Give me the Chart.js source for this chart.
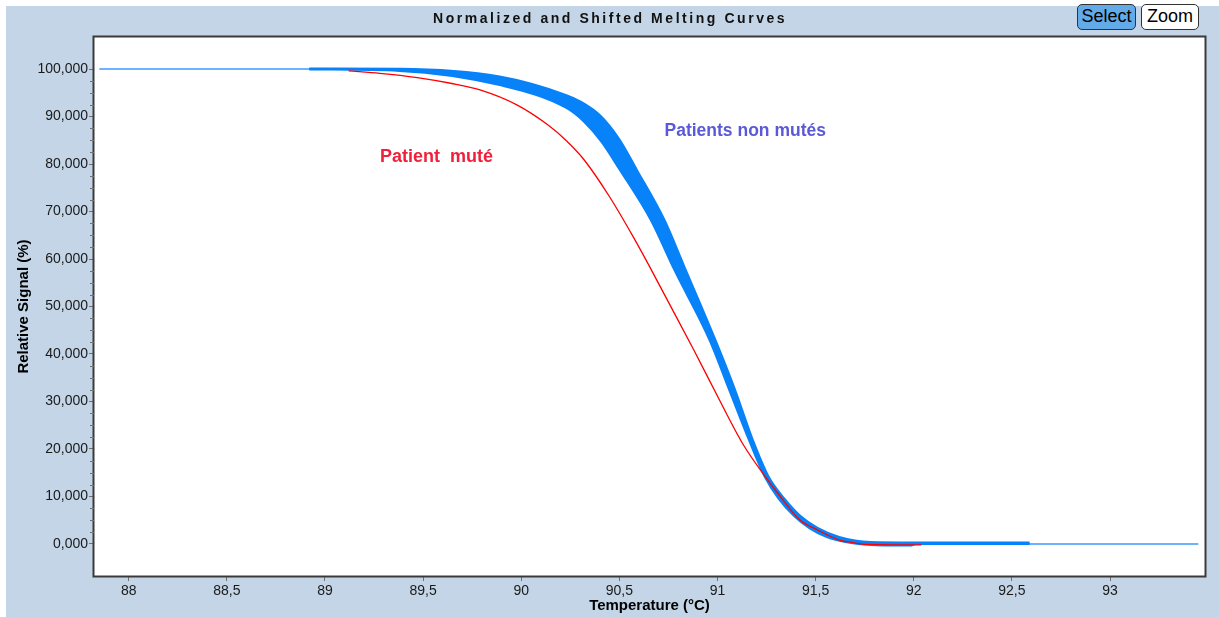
<!DOCTYPE html>
<html>
<head>
<meta charset="utf-8">
<title>Normalized and Shifted Melting Curves</title>
<script src="https://cdn.jsdelivr.net/npm/chart.js@4.4.1/dist/chart.umd.min.js"></script>
<style>
    body { margin: 0; background: #fff; width: 1219px; height: 617px; overflow: hidden; position: relative; font-family: "Liberation Sans", Arial, sans-serif; }
    #frame { position: absolute; left: 6px; top: 6px; width: 1213px; height: 611px; background: #c3d5e6; }
    #chart { position: absolute; left: 0; top: 0; }
    #title { position: absolute; left: 433px; top: 10px; font-weight: bold; font-size: 14px; letter-spacing: 2.55px; white-space: nowrap; color: #111; }
    .btn { position: absolute; top: 4px; height: 26px; box-sizing: border-box; border: 1px solid #333; border-radius: 5px; font-size: 18px; line-height: 23px; text-align: center; color: #000; }
    #btnSelect { left: 1077px; width: 59px; background: #62aae8; }
    #btnZoom { left: 1141px; width: 58px; background: #fff; }
</style>
</head>
<body>
<div id="frame"></div>
<canvas id="chart" width="1219" height="617"></canvas>
<div id="title">Normalized and Shifted Melting Curves</div>
<div class="btn" id="btnSelect">Select</div>
<div class="btn" id="btnZoom">Zoom</div>
<script>
// ====== DATA ======
const xTicks = [88, 88.5, 89, 89.5, 90, 90.5, 91, 91.5, 92, 92.5, 93];
const yTicks = [0, 10, 20, 30, 40, 50, 60, 70, 80, 90, 100];
const yMinorSteps = [2.5, 5, 7.5];

// patient muté (red)
const mutTemp   = [89.12, 89.28, 89.47, 89.64, 89.79, 89.98, 90.13, 90.23, 90.32, 90.45, 90.57, 90.65, 90.74, 90.88, 91.01, 91.13, 91.25, 91.32, 91.42, 91.51, 91.62, 91.69, 91.76, 92.04];
const mutSignal = [99.6, 99.1, 98.2, 97.0, 95.6, 92.4, 88.4, 84.9, 80.9, 73.1, 64.7, 58.7, 51.7, 40.8, 30.3, 21.0, 13.8, 10.0, 5.05, 2.95, 0.84, 0.28, -0.1, -0.2];

// patients non mutés: upper edge of the bundle
const topTemp   = [88.92, 89.38, 89.89, 90.23, 90.30, 90.40, 90.50, 90.59, 90.73, 90.83, 90.99, 91.09, 91.18, 91.26, 91.34, 91.42, 91.51, 91.62, 91.78, 92.0, 92.59];
const topSignal = [100.1, 100.05, 98.4, 94.5, 93.2, 90.3, 85.2, 78.7, 68.2, 58.5, 42.9, 32.4, 21.9, 14.2, 9.6, 6.0, 3.4, 1.5, 0.42, 0.32, 0.32];

// patients non mutés: lower edge of the bundle
const lowTemp   = [88.92, 89.38, 89.89, 90.23, 90.32, 90.41, 90.50, 90.66, 90.78, 90.96, 91.06, 91.16, 91.24, 91.31, 91.39, 91.47, 91.56, 91.69, 91.85, 91.99, 92.01, 92.59];
const lowSignal = [99.9, 99.6, 96.6, 91.8, 88.9, 84.6, 78.9, 68.2, 57.7, 42.9, 32.4, 21.9, 14.2, 9.6, 5.9, 3.3, 1.4, 0.15, -0.3, -0.3, 0.0, 0.0];

// the one long non-muté run (thin line at both ends)
const refTemp   = [87.85, 88.92, 89.38, 89.89, 90.23, 90.40, 90.55, 90.70, 90.81, 90.98, 91.08, 91.17, 91.25, 91.33, 91.41, 91.49, 91.59, 91.73, 92.0, 93.45];
const refSignal = [100, 100, 99.85, 97.5, 93.1, 87.5, 78.7, 68.2, 58.0, 42.9, 32.4, 21.9, 14.2, 9.6, 5.9, 3.3, 1.45, 0.3, 0.0, 0.0];

// ====== HELPERS ======
const FONT = '"Liberation Sans", Arial, sans-serif';
const BAND = '#0882f8';
const pts = (xs, ys) => xs.map((x, i) => ({ x: x, y: ys[i] }));
const comma = (s) => String(s).replace('.', ',');

// white plot area + dark frame
const plotFrame = {
    id: 'plotFrame',
    beforeDraw(chart) {
        const { ctx, chartArea: a } = chart;
        ctx.save();
        ctx.fillStyle = '#fff';
        ctx.fillRect(a.left, a.top, a.right - a.left, a.bottom - a.top);
        ctx.restore();
    },
    afterDraw(chart) {
        const { ctx, chartArea: a } = chart;
        ctx.save();
        ctx.strokeStyle = '#3a3a3a';
        ctx.lineWidth = 2;
        ctx.strokeRect(a.left - 0.5, a.top - 0.5, a.right - a.left + 1, a.bottom - a.top + 1);
        ctx.restore();
    }
};

// short minor ticks on the y axis
const minorTicks = {
    id: 'minorTicks',
    afterDraw(chart) {
        const { ctx, chartArea: a, scales: { y } } = chart;
        ctx.save();
        ctx.strokeStyle = '#707070';
        ctx.lineWidth = 1;
        yTicks.slice(0, -1).forEach(v => {
            yMinorSteps.forEach(d => {
                const py = Math.round(y.getPixelForValue(v + d)) + 0.5;
                ctx.beginPath();
                ctx.moveTo(a.left - 4, py);
                ctx.lineTo(a.left, py);
                ctx.stroke();
            });
        });
        ctx.restore();
    }
};

// text labels inside the plot
const notes = [
    { text: 'Patient  muté', temp: 89.28, signal: 81.5, color: '#f0203a', size: 18 },
    { text: 'Patients non mutés', temp: 90.73, signal: 86.9, color: '#5a5ad8', size: 17.5 }
];
const noteLabels = {
    id: 'noteLabels',
    afterDatasetsDraw(chart) {
        const { ctx, scales: { x, y } } = chart;
        ctx.save();
        ctx.textBaseline = 'middle';
        ctx.textAlign = 'left';
        notes.forEach(n => {
            ctx.font = 'bold ' + n.size + 'px ' + FONT;
            ctx.fillStyle = n.color;
            ctx.fillText(n.text, x.getPixelForValue(n.temp), y.getPixelForValue(n.signal));
        });
        ctx.restore();
    }
};

// ====== CHART ======
const ctx = document.getElementById('chart').getContext('2d');
new Chart(ctx, {
    type: 'line',
    data: {
        datasets: [
            { label: 'Patient muté', data: pts(mutTemp, mutSignal), borderColor: '#ff0000', borderWidth: 1.3, order: 0 },
            { label: 'Non mutés (haut)', data: pts(topTemp, topSignal), borderColor: BAND, backgroundColor: BAND, borderWidth: 2, fill: '+1', order: 1 },
            { label: 'Non mutés (bas)', data: pts(lowTemp, lowSignal), borderColor: BAND, borderWidth: 2, fill: false, order: 2 },
            { label: 'Non muté (long)', data: pts(refTemp, refSignal), borderColor: '#3d9bff', borderWidth: 1.5, fill: false, order: 3 }
        ]
    },
    options: {
        responsive: false,
        animation: false,
        devicePixelRatio: 1,
        elements: { point: { radius: 0 }, line: { cubicInterpolationMode: 'monotone' } },
        layout: { padding: { left: 0, top: 37, right: 14, bottom: 0 } },
        plugins: { legend: { display: false }, tooltip: { enabled: false } },
        scales: {
            x: {
                type: 'linear',
                min: 87.823,
                max: 93.484,
                afterBuildTicks: s => { s.ticks = xTicks.map(v => ({ value: v })); },
                afterFit: s => { s.height = 41; },
                ticks: { callback: v => comma(v), font: { family: FONT, size: 14 }, color: '#1a1a1a', padding: 2, maxRotation: 0, autoSkip: false },
                grid: { drawOnChartArea: false, tickLength: 5, tickColor: '#707070' },
                border: { display: false },
                title: { display: true, text: 'Temperature (°C)', font: { family: FONT, size: 15, weight: 'bold' }, color: '#000', padding: { top: 0, bottom: 2.6 } }
            },
            y: {
                min: -6.737,
                max: 106.737,
                afterBuildTicks: s => { s.ticks = yTicks.map(v => ({ value: v })); },
                afterFit: s => { s.width = 94; },
                ticks: { callback: v => comma(v.toFixed(3)), font: { family: FONT, size: 14 }, color: '#1a1a1a', padding: 1, autoSkip: false },
                grid: { drawOnChartArea: false, tickLength: 5, tickColor: '#707070' },
                border: { display: false },
                title: { display: true, text: 'Relative Signal (%)', font: { family: FONT, size: 15, weight: 'bold' }, color: '#000', padding: { top: 15, bottom: 0 } }
            }
        }
    },
    plugins: [plotFrame, minorTicks, noteLabels]
});
</script>
</body>
</html>
